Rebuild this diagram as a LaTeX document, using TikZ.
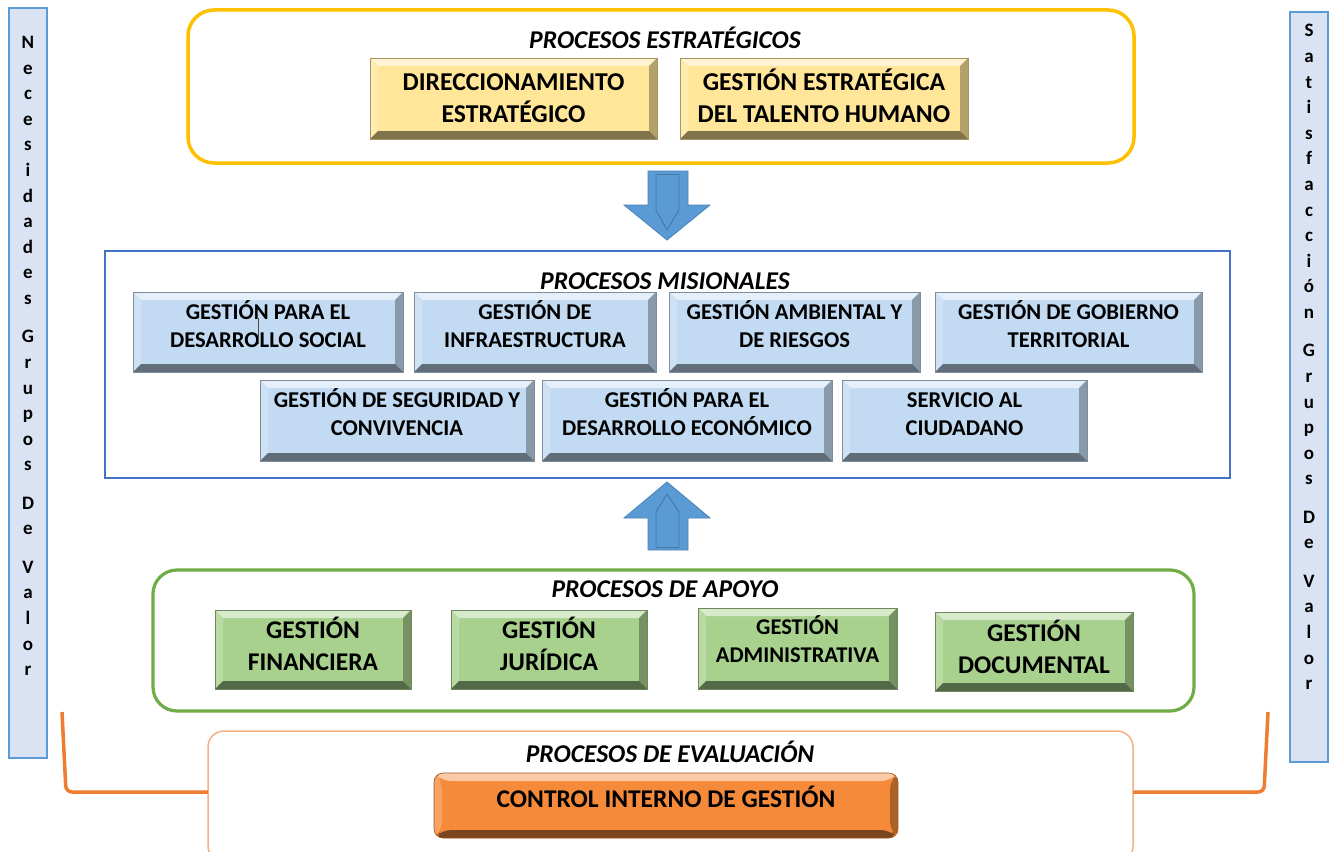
\documentclass[tikz,border=0pt]{standalone}
\usepackage{fontspec}
\setmainfont{Carlito}
\usetikzlibrary{calc}
\definecolor{ybase}{HTML}{FFE699}
\definecolor{bbase}{HTML}{C3DBF2}
\definecolor{gbase}{HTML}{A9D18E}
\definecolor{obase}{HTML}{F58A3B}
\definecolor{stratc}{HTML}{FFC000}
\definecolor{apoyoc}{HTML}{70AD47}
\definecolor{misc}{HTML}{4472C4}
\definecolor{evalc}{HTML}{F4B183}
\definecolor{brackc}{HTML}{ED7D31}
\definecolor{sidefill}{HTML}{DAE3F3}
\definecolor{sidedraw}{HTML}{5B9BD5}
\definecolor{arrfill}{HTML}{5B9BD5}
\definecolor{arrdraw}{HTML}{41719C}
\newcommand\btext[2]{\raisebox{#1}[0pt][0pt]{\begin{tabular}[t]{@{}c@{}}#2\end{tabular}}}
\tikzset{
  bevel/.style={fill=#1, draw=#1!65!black, line width=0.6pt, inner sep=0pt,
    path picture={
      \coordinate (bNW) at (path picture bounding box.north west);
      \coordinate (bNE) at (path picture bounding box.north east);
      \coordinate (bSW) at (path picture bounding box.south west);
      \coordinate (bSE) at (path picture bounding box.south east);
      \fill[#1!45!white] (bNW) -- (bNE) -- ([shift={(-8,8)}]bNE) -- ([shift={(8,8)}]bNW) -- cycle;
      \fill[#1!80!white] (bNW) -- (bSW) -- ([shift={(8,-8)}]bSW) -- ([shift={(8,8)}]bNW) -- cycle;
      \fill[#1!70!black] (bNE) -- (bSE) -- ([shift={(-8,-8)}]bSE) -- ([shift={(-8,8)}]bNE) -- cycle;
      \fill[#1!50!black] (bSW) -- (bSE) -- ([shift={(-8,-8)}]bSE) -- ([shift={(8,-8)}]bSW) -- cycle;
    }},
  ybox/.style={bevel=ybase, font=\fontsize{25.7}{32}\selectfont\bfseries},
  bbox/.style={bevel=bbase, font=\fontsize{22.6}{28}\selectfont\bfseries},
  gbox/.style={bevel=gbase, font=\fontsize{25.5}{32}\selectfont\bfseries},
  obox/.style={bevel=obase, rounded corners=9pt, font=\fontsize{25.5}{30}\selectfont\bfseries},
  title/.style={font=\fontsize{25.6}{28}\selectfont\bfseries\itshape, inner sep=0pt},
  sidebar/.style={fill=sidefill, draw=sidedraw, line width=1.2pt},
  sidetext/.style={font=\fontsize{19}{25.6}\selectfont\bfseries, align=center, inner sep=0pt},
  blockarrow/.style={fill=arrfill, draw=arrdraw!60!arrfill, line width=0.8pt},
  arrinner/.style={draw=arrdraw!85!arrfill, line width=0.9pt},
}
\begin{document}
\begin{tikzpicture}[x=1pt,y=-1pt]
\useasboundingbox (0,0) rectangle (1330,851);
\clip (0,0) rectangle (1330,851);
\fill[white] (0,0) rectangle (1330,851);

% side bars
\draw[sidebar] (9,8) rectangle (47,758);
\node[sidetext] (lefttxt) at (28,356) {N\\e\\c\\e\\s\\i\\d\\a\\d\\e\\s\\[12.8pt]G\\r\\u\\p\\o\\s\\[12.8pt]D\\e\\[12.8pt]V\\a\\l\\o\\r};
\draw[sidebar] (1290,12) rectangle (1328,762);
\node[sidetext] (righttxt) at (1309,357) {S\\a\\t\\i\\s\\f\\a\\c\\c\\i\\ó\\n\\[12.8pt]G\\r\\u\\p\\o\\s\\[12.8pt]D\\e\\[12.8pt]V\\a\\l\\o\\r};

% strategic
\draw[stratc, line width=3.5pt, rounded corners=26pt] (188,10) rectangle (1134,163);
\node[title] (ttlE) at (665,38) {PROCESOS ESTRATÉGICOS};
\node[ybox, minimum width=287pt, minimum height=81pt] (dir) at (513.5,98.5) {\btext{8.4pt}{DIRECCIONAMIENTO\\ESTRATÉGICO}};
\node[ybox, minimum width=288pt, minimum height=81pt] (talento) at (824,98.5) {\btext{8.4pt}{GESTIÓN ESTRATÉGICA\\DEL TALENTO HUMANO}};

% down arrow
\draw[blockarrow] (648,171) -- (688,171) -- (688,205) -- (710,205) -- (667,240) -- (624,205) -- (648,205) -- cycle;
\draw[arrinner] (656,174) -- (656,210) -- (667,230) -- (679,210) -- (679,174);
\draw[arrinner] (656,174) -- (679,174);

% misional
\draw[misc, line width=1.2pt] (105,251) rectangle (1230,478);
\node[title] (ttlM) at (665,281) {PROCESOS MISIONALES};
\node[bbox, minimum width=270pt, minimum height=80pt] (m1) at (268,332) {\btext{12.85pt}{GESTIÓN PARA EL\\DESARROLLO SOCIAL}};
\draw[black!70, line width=0.7pt] (258,318) -- (258,344);
\node[bbox, minimum width=242pt, minimum height=80pt] (m2) at (535,332) {\btext{12.85pt}{GESTIÓN DE\\INFRAESTRUCTURA}};
\node[bbox, minimum width=251pt, minimum height=80pt] (m3) at (794.5,332) {\btext{12.85pt}{GESTIÓN AMBIENTAL Y\\DE RIESGOS}};
\node[bbox, minimum width=267pt, minimum height=80pt] (m4) at (1068.5,332) {\btext{12.85pt}{GESTIÓN DE GOBIERNO\\TERRITORIAL}};
\node[bbox, minimum width=274pt, minimum height=81pt] (m5) at (397,420.5) {\btext{12.85pt}{GESTIÓN DE SEGURIDAD Y\\CONVIVENCIA}};
\node[bbox, minimum width=290pt, minimum height=81pt] (m6) at (687,420.5) {\btext{12.85pt}{GESTIÓN PARA EL\\DESARROLLO ECONÓMICO}};
\node[bbox, minimum width=245pt, minimum height=81pt] (m7) at (964.5,420.5) {\btext{12.85pt}{SERVICIO AL\\CIUDADANO}};

% up arrow
\draw[blockarrow] (667,482) -- (710,518) -- (688,518) -- (688,550) -- (648,550) -- (648,518) -- (624,518) -- cycle;
\draw[arrinner] (656,547) -- (656,512) -- (667,494) -- (679,512) -- (679,547);
\draw[arrinner] (656,547) -- (679,547);

% apoyo
\draw[apoyoc, line width=3.2pt, rounded corners=24pt] (153,570) rectangle (1194,711);
\node[title] (ttlA) at (665,589) {PROCESOS DE APOYO};
\node[gbox, minimum width=196pt, minimum height=79pt] (a1) at (313,649.5) {\btext{11.45pt}{GESTIÓN\\FINANCIERA}};
\node[gbox, minimum width=196pt, minimum height=79pt] (a2) at (549,649.5) {\btext{11.45pt}{GESTIÓN\\JURÍDICA}};
\node[gbox, minimum width=199pt, minimum height=81pt, font=\fontsize{22.5}{28}\selectfont\bfseries] (a3) at (797.5,648.5) {\btext{14.4pt}{GESTIÓN\\ADMINISTRATIVA}};
\node[gbox, minimum width=198pt, minimum height=79pt] (a4) at (1034,651.5) {\btext{10.45pt}{GESTIÓN\\DOCUMENTAL}};

% evaluacion
\draw[evalc, line width=1.5pt, rounded corners=16pt] (208,731) rectangle (1133,862);
\node[title] (ttlV) at (670,752) {PROCESOS DE EVALUACIÓN};
\node[obox, minimum width=464pt, minimum height=65pt] (ctrl) at (666,805.5) {\btext{-1.55pt}{CONTROL INTERNO DE GESTIÓN}};

% brackets
\coordinate (bl) at (62,712);
\coordinate (br) at (1268,712);
\draw[brackc, line width=3.5pt, rounded corners=6pt] (bl) -- (66,792) -- (208,792);
\draw[brackc, line width=3.5pt, rounded corners=6pt] (1133,792) -- (1264,792) -- (br);
\end{tikzpicture}
\end{document}
